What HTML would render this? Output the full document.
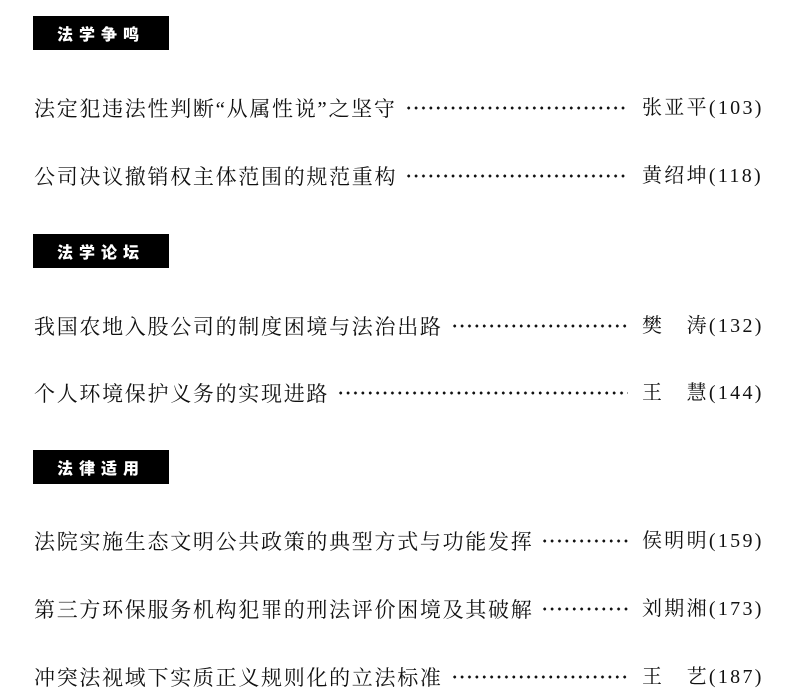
<!DOCTYPE html>
<html><head><meta charset="utf-8"><style>
body{margin:0;width:799px;height:700px;background:#fff;position:relative;overflow:hidden;font-family:"Liberation Serif","Noto Serif CJK SC",serif;color:#111}
.h{position:absolute;left:33px;width:136px;height:34px;background:#000;color:#fff;font-family:"Noto Sans CJK SC",sans-serif;font-weight:900;font-size:16px;letter-spacing:6px;line-height:34px;padding-left:24px;box-sizing:border-box}
.r{position:absolute;left:34px;width:594px;height:30px;display:flex;align-items:center;font-size:21px;letter-spacing:1.7px;white-space:nowrap}
.d{flex:1;height:4px;margin-left:8px;background:radial-gradient(circle,#111 1.3px,transparent 1.6px) 0 0/7.4px 4px repeat-x}
.a{position:absolute;left:642px;height:30px;line-height:30px;font-size:20px;letter-spacing:2.3px;white-space:nowrap}
</style></head><body>
<div class="h" style="top:16px">法学争鸣</div>
<div class="r" style="top:93px">法定犯违法性判断“从属性说”之坚守<span class="d"></span></div>
<div class="a" style="top:93px">张亚平(103)</div>
<div class="r" style="top:161px">公司决议撤销权主体范围的规范重构<span class="d"></span></div>
<div class="a" style="top:161px">黄绍坤(118)</div>
<div class="h" style="top:234px">法学论坛</div>
<div class="r" style="top:311px">我国农地入股公司的制度困境与法治出路<span class="d"></span></div>
<div class="a" style="top:311px">樊　涛(132)</div>
<div class="r" style="top:378px">个人环境保护义务的实现进路<span class="d"></span></div>
<div class="a" style="top:378px">王　慧(144)</div>
<div class="h" style="top:450px">法律适用</div>
<div class="r" style="top:526px">法院实施生态文明公共政策的典型方式与功能发挥<span class="d"></span></div>
<div class="a" style="top:526px">侯明明(159)</div>
<div class="r" style="top:594px">第三方环保服务机构犯罪的刑法评价困境及其破解<span class="d"></span></div>
<div class="a" style="top:594px">刘期湘(173)</div>
<div class="r" style="top:662px">冲突法视域下实质正义规则化的立法标准<span class="d"></span></div>
<div class="a" style="top:662px">王　艺(187)</div>
</body></html>
